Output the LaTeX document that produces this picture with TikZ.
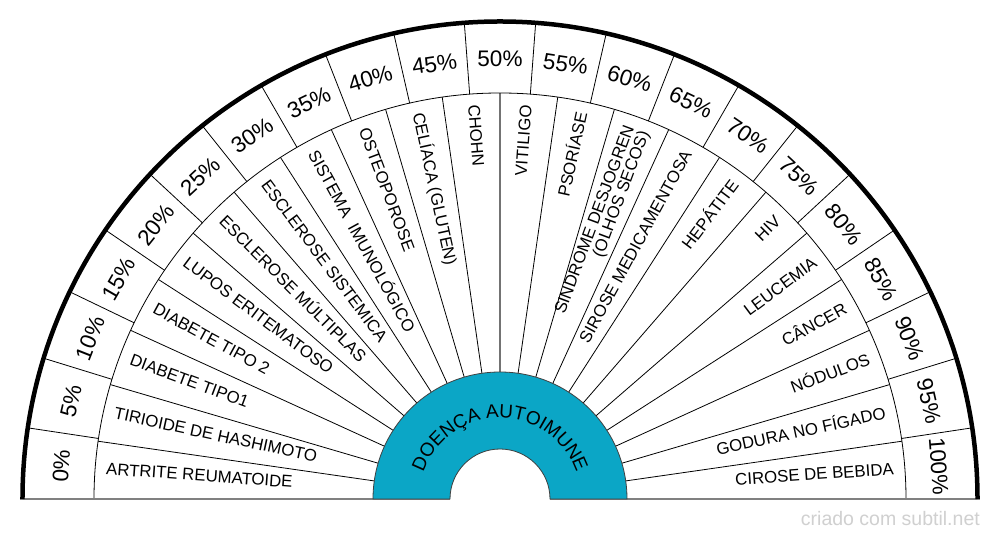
\documentclass[tikz,border=0pt]{standalone}
\usepackage{fontspec}
\setmainfont{Liberation Sans}
\usetikzlibrary{decorations.text}
\definecolor{ringteal}{HTML}{0BA6C6}
\definecolor{markgray}{HTML}{D0D0D0}
\begin{document}
\begin{tikzpicture}[x=1pt,y=1pt,
  pct/.style={font=\fontsize{22.5}{22.5}\selectfont, inner sep=0pt},
  lbl/.style={font=\fontsize{16.8}{16}\selectfont, inner sep=0pt, text height=0.72em, text depth=0pt},
  lbltwo/.style={font=\fontsize{16.8}{16}\selectfont, inner sep=0pt, align=right},
  thinline/.style={draw=black, line width=0.8pt},
  midline/.style={draw=black!55, line width=1.4pt},
  baseline/.style={draw=black!50, line width=1.6pt},
  outerarc/.style={draw=black, line width=4.5pt},
  ring/.style={fill=ringteal, draw=black!75, line width=0.8pt}]
\fill[white] (-500,-41) rectangle (500,499);
\useasboundingbox (-500,-41) rectangle (500,499);
% label ring radial lines
\foreach \k in {1,...,21}{
  \pgfmathsetmacro\a{180-\k*180/22}
  \ifnum\k=11
    \draw[midline] (\a:127) -- (\a:406);
  \else
    \draw[thinline] (\a:127) -- (\a:406);
  \fi
}
% label ring outer arc
\draw[thinline] (-406,0) arc[start angle=180,end angle=0,radius=406];
% percent ring radial lines
\foreach \k in {1,...,20}{
  \pgfmathsetmacro\a{180-\k*180/21}
  \draw[thinline] (\a:406) -- (\a:477.5);
}
% baseline
\coordinate (bl1) at (-480,0);
\coordinate (bl2) at (-50,0);
\coordinate (br1) at (50,0);
\coordinate (br2) at (480,0);
\draw[baseline] (bl1) -- (bl2);
\draw[baseline] (br1) -- (br2);
% outer thick arc
\draw[outerarc] (-477.5,0) arc[start angle=180,end angle=0,radius=477.5];
% teal ring
\filldraw[ring] (-127,0) arc[start angle=180,end angle=0,radius=127] -- (50,0) arc[start angle=0,end angle=180,radius=50] -- cycle;
\path[decorate, decoration={text along path, text={|\fontsize{19}{19}\selectfont|DOENÇA AUTOIMUNE}, text align=center}] (-81,0) arc[start angle=180,end angle=0,radius=81];
% percentages
\foreach \i in {0,...,20}{
  \pgfmathsetmacro\a{180-(\i+0.5)*180/21}
  \pgfmathtruncatemacro\v{5*\i}
  \node[pct, rotate=\a-90] (p\i) at (\a:440) {\v\%};
}
% labels
\foreach \i/\t in {0/ARTRITE REUMATOIDE,1/TIRIOIDE DE HASHIMOTO,2/DIABETE TIPO1,3/DIABETE TIPO 2,4/LUPOS ERITEMATOSO,5/ESCLEROSE MÚLTIPLAS,6/ESCLEROSE SISTEMICA,7/SISTEMA~ IMUNOLÓGICO,8/OSTEOPOROSE,9/CELÍACA (GLUTEN),10/CHOHN,11/VITILIGO,12/PSORÍASE,14/SIROSE MEDICAMENTOSA,15/HEPÁTITE,16/HIV,17/LEUCEMIA,18/CÂNCER,19/NÓDULOS,20/GODURA NO FÍGADO,21/CIROSE DE BEBIDA}{
  \pgfmathsetmacro\a{180-(\i+0.5)*180/22}
  \ifdim\a pt>90pt
    \node[lbl, rotate=\a-180, anchor=west] (l\i) at (\a:395) {\t};
  \else
    \node[lbl, rotate=\a, anchor=east] (l\i) at (\a:395) {\t};
  \fi
}
\node[lbltwo, rotate=69.545, anchor=east] (l13) at (69.545:395) {SINDROME DESJOGREN\\(OLHOS SECOS)};
% watermark
\node[font=\fontsize{19.5}{19.5}\selectfont, text=markgray, anchor=base east, inner sep=0pt] (mark) at (480,-26.5) {criado com subtil.net};
\end{tikzpicture}
\end{document}
